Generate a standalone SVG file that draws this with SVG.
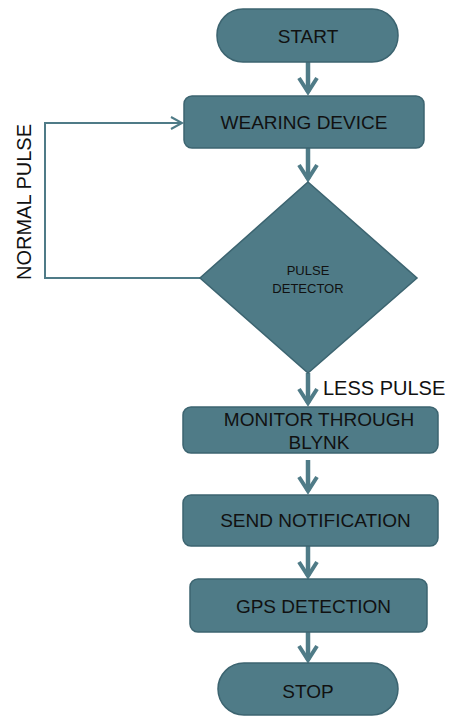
<svg xmlns="http://www.w3.org/2000/svg" width="451" height="716" viewBox="0 0 451 716">
<style>
.n{fill:#4f7b87;stroke:#3c6470;stroke-width:1.5}
.t{font-family:"Liberation Sans",Arial,sans-serif;font-size:19px;fill:#111;text-anchor:middle}
.s{font-size:13px}
.c{fill:none;stroke:#4f7b87;stroke-width:4.5;stroke-linejoin:miter}
.h{fill:none;stroke:#4f7b87;stroke-width:4;stroke-linejoin:miter;stroke-miterlimit:10}
.l{fill:none;stroke:#4f7b87;stroke-width:2}
</style>
<rect width="451" height="716" fill="#fff"/>
<g id="connectors">
<path class="c" d="M308 62V92M308 148V179M308 373V403M308 460V491M308 546V576M308 632V660"/>
<path class="h" d="M299 78L308 92L317 78M299 165L308 179L317 165M299 389L308 403L317 389M299 477L308 491L317 477M299 562L308 576L317 562M299 646L308 660L317 646"/>
<path class="l" d="M200 278H45V123H182"/>
<path class="l" d="M171 117L182 123L171 129"/>
</g>
<g id="start"><rect class="n" x="217" y="9" width="181" height="53" rx="26"/><text class="t" x="308" y="43">START</text></g>
<g id="wearing"><rect class="n" x="184" y="96" width="240" height="52" rx="8"/><text class="t" x="304" y="129">WEARING DEVICE</text></g>
<g id="detector"><polygon class="n" points="308,182 417,278 308,373 200,278"/><text class="t s" x="308" y="275">PULSE</text><text class="t s" x="308" y="293">DETECTOR</text></g>
<g id="monitor"><rect class="n" x="183" y="407" width="255" height="46" rx="8"/><text class="t" x="319" y="426">MONITOR THROUGH</text><text class="t" x="319" y="449">BLYNK</text></g>
<g id="send"><rect class="n" x="183" y="495" width="255" height="51" rx="8"/><text class="t" x="315.5" y="527">SEND NOTIFICATION</text></g>
<g id="gps"><rect class="n" x="190" y="579" width="237" height="53" rx="8"/><text class="t" x="313.5" y="613">GPS DETECTION</text></g>
<g id="stop"><rect class="n" x="218" y="663" width="180" height="52" rx="26"/><text class="t" x="308" y="698">STOP</text></g>
<g id="labels">
<text class="t" x="323" y="395" style="text-anchor:start;font-size:20px">LESS PULSE</text>
<text class="t" transform="translate(31,202) rotate(-90)" style="font-size:20px">NORMAL PULSE</text>
</g>
</svg>
